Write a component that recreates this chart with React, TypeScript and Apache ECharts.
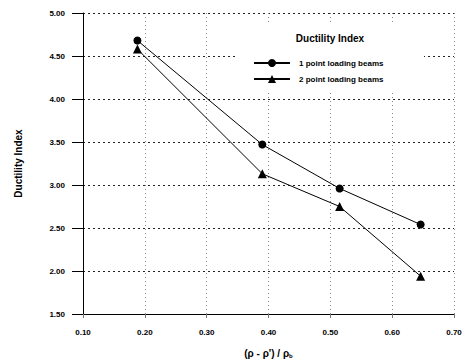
import React, { useEffect, useRef } from "react";
import * as echarts from "echarts";

const xValues = [0.188, 0.39, 0.515, 0.646];
const onePoint = [4.68, 3.47, 2.96, 2.54];
const twoPoint = [4.58, 3.13, 2.75, 1.94];
const seriesNames = ["1 point loading beams", "2 point loading beams"];
const legendTitle = "Ductility Index";
const yName = "Ductility Index";

export default function App() {
  const ref = useRef<HTMLDivElement>(null);
  useEffect(() => {
    if (!ref.current) return;
    const chart = echarts.init(ref.current, undefined, { renderer: "svg" });
    const font = "Liberation Sans, Arial, sans-serif";
    chart.setOption({
      animation: false,
      backgroundColor: "#fff",
      textStyle: { fontFamily: font },
      grid: { left: 83, right: 17, top: 13, bottom: 43 },
      xAxis: {
        type: "value",
        min: 0.1,
        max: 0.7,
        interval: 0.1,
        name: "(ρ - ρ') / ρ{sub|b}",
        nameLocation: "middle",
        nameGap: 33,
        nameTextStyle: {
          fontSize: 10,
          fontWeight: "bold",
          color: "#000",
          fontFamily: font,
          rich: { sub: { fontSize: 6, fontWeight: "bold", verticalAlign: "bottom", padding: [6, 0, 0, 0] } },
        },
        axisLine: { lineStyle: { color: "#000", width: 1 } },
        axisTick: { show: true, length: 4, lineStyle: { color: "#777" } },
        axisLabel: {
          margin: 14,
          fontSize: 8,
          fontWeight: "bold",
          color: "#000",
          formatter: (v: number) => v.toFixed(2),
        },
        splitLine: { show: true, lineStyle: { color: "#888", type: [1, 3], width: 1 } },
      },
      yAxis: {
        type: "value",
        min: 1.5,
        max: 5,
        interval: 0.5,
        name: yName,
        nameLocation: "middle",
        nameGap: 60,
        nameTextStyle: { fontSize: 10, fontWeight: "bold", color: "#000", fontFamily: font },
        axisLine: { show: true, lineStyle: { color: "#000", width: 1 } },
        axisTick: { show: true, length: 11, lineStyle: { color: "#000" } },
        axisLabel: {
          margin: 18,
          fontSize: 8,
          fontWeight: "bold",
          color: "#000",
          formatter: (v: number) => v.toFixed(2),
        },
        splitLine: { show: true, lineStyle: { color: "#222", type: [2, 3], width: 1 } },
      },
      graphic: [
        { type: "rect", z: 1, shape: { x: 236, y: 24, width: 188, height: 66 }, style: { fill: "#fff" } },
        {
          type: "text",
          z: 5,
          x: 330,
          y: 38,
          style: {
            text: legendTitle,
            fontSize: 10,
            fontWeight: "bold",
            fill: "#000",
            fontFamily: font,
            align: "center",
            verticalAlign: "middle",
          },
        },
      ],
      legend: {
        orient: "vertical",
        left: 248,
        top: 54,
        itemWidth: 36,
        itemHeight: 10,
        itemGap: 8,
        z: 6,
        textStyle: { fontSize: 8, fontWeight: "bold", color: "#000", padding: [0, 0, 0, 4] },
        data: seriesNames,
      },
      series: [
        {
          name: seriesNames[0],
          type: "line",
          data: xValues.map((x, i) => [x, onePoint[i]]),
          symbol: "circle",
          symbolSize: 8,
          itemStyle: { color: "#000" },
          lineStyle: { color: "#000", width: 1 },
          z: 3,
        },
        {
          name: seriesNames[1],
          type: "line",
          data: xValues.map((x, i) => [x, twoPoint[i]]),
          symbol: "triangle",
          symbolSize: 9,
          itemStyle: { color: "#000" },
          lineStyle: { color: "#000", width: 1 },
          z: 3,
        },
      ],
    });
    return () => chart.dispose();
  }, []);
  return <div ref={ref} style={{ width: 471, height: 364, position: "absolute", left: 0, top: 0 }} />;
}
